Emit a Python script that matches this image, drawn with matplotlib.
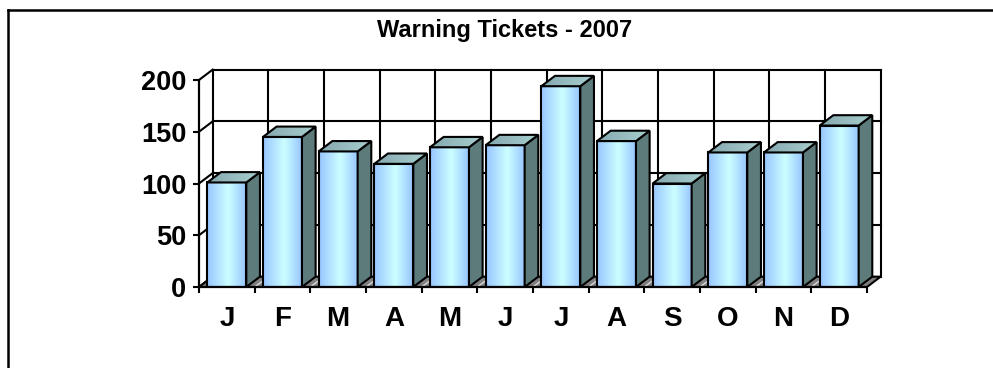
import matplotlib
matplotlib.use('Agg')
import matplotlib.pyplot as plt
import numpy as np
from matplotlib.patches import Polygon, Rectangle
from matplotlib.colors import LinearSegmentedColormap
from matplotlib.lines import Line2D

plt.rcParams['font.family'] = ['Liberation Sans', 'DejaVu Sans']
plt.rcParams['font.weight'] = 'bold'

# Data
months = ['J', 'F', 'M', 'A', 'M', 'J', 'J', 'A', 'S', 'O', 'N', 'D']
tickets = [101, 145, 131, 119, 135, 137, 194, 141, 100, 130, 130, 156]
yticks = [0, 50, 100, 150, 200]
title = 'Warning Tickets - 2007'

W, H = 993, 368
fig = plt.figure(figsize=(W / 100, H / 100), dpi=100)

n = len(months)
xmax, ymax = n + 0.4, 215
px_x, px_y = 668 / n, 207 / 200        # pixels per data unit
ax = fig.add_axes([199 / W, (H - 287) / H, xmax * px_x / W, ymax * px_y / H])

dx, dy = 0.245, 10      # depth offset (data units)
bw = 0.70               # bar width
lw = 1.5
black = 'black'

# back wall grid
for v in yticks[1:]:
    ax.plot([dx, n + dx], [v + dy, v + dy], color=black, lw=lw, zorder=1)
for k in range(n + 1):
    ax.plot([k + dx, k + dx], [dy, yticks[-1] + dy], color=black, lw=lw, zorder=1)
# side wall lines
for v in yticks:
    ax.plot([0, dx], [v, v + dy], color=black, lw=lw, zorder=1)

# floor
ax.add_patch(Polygon([(0, 0), (n, 0), (n + dx, dy), (dx, dy)], closed=True,
                     fc='#808080', ec=black, lw=lw, zorder=1.5))
for k in range(1, n):
    ax.plot([k, k + dx], [0, dy], color='#d8d8d8', lw=1.0, zorder=1.6)

front_cmap = LinearSegmentedColormap.from_list(
    'front', [(0, '#98C6FF'), (0.55, '#CCFFFF'), (1, '#98C6FF')])
top_cmap = LinearSegmentedColormap.from_list(
    'top', [(0, '#85A8AF'), (1, '#A9CFCF')])
grad = np.linspace(0, 1, 64).reshape(1, -1)

for i, v in enumerate(tickets):
    x0 = i + (1 - bw) / 2
    x1 = x0 + bw
    # front face
    ax.imshow(grad, cmap=front_cmap, extent=[x0, x1, 0, v], aspect='auto',
              interpolation='bilinear', zorder=3)
    ax.add_patch(Rectangle((x0, 0), bw, v, fill=False, ec=black, lw=lw, zorder=4))
    # side face
    ax.add_patch(Polygon([(x1, 0), (x1 + dx, dy), (x1 + dx, v + dy), (x1, v)],
                         closed=True, fc='#5E7B7B', ec=black, lw=lw, zorder=4))
    # top face
    top = Polygon([(x0, v), (x1, v), (x1 + dx, v + dy), (x0 + dx, v + dy)],
                  closed=True, fc='none', ec=black, lw=lw, zorder=5)
    ax.add_patch(top)
    im = ax.imshow(grad, cmap=top_cmap, extent=[x0, x1 + dx, v, v + dy],
                   aspect='auto', interpolation='bilinear', zorder=4.5)
    im.set_clip_path(top)

ax.set_xlim(0, xmax)
ax.set_ylim(0, ymax)

# axes / ticks
for s in ['top', 'right']:
    ax.spines[s].set_visible(False)
ax.spines['left'].set_bounds(0, yticks[-1])
ax.spines['bottom'].set_bounds(0, n)
for s in ['left', 'bottom']:
    ax.spines[s].set_linewidth(1.6)
    ax.spines[s].set_zorder(6)
ax.patch.set_alpha(0)

ax.set_yticks(yticks)
ax.set_yticklabels([str(t) for t in yticks], fontsize=19.5, fontweight='bold')
ax.tick_params(axis='y', length=4, width=1.5, pad=5)
ax.set_xticks(np.arange(n) + 0.5)
ax.set_xticklabels(months, fontsize=20, fontweight='bold')
ax.set_xticks(np.arange(n + 1), minor=True)
ax.tick_params(axis='x', which='major', length=0, pad=14)
ax.tick_params(axis='x', which='minor', length=4, width=1.5)

fig.text(505 / W, 1 - 31 / H, title, ha='center', va='center',
         fontsize=17, fontweight='bold')

# outer frame (top and left visible)
fig.add_artist(Line2D([8 / W, 1], [1 - 10 / H, 1 - 10 / H],
                      transform=fig.transFigure, color=black, lw=1.8))
fig.add_artist(Line2D([8 / W, 8 / W], [0, 1 - 10 / H],
                      transform=fig.transFigure, color=black, lw=1.8))

fig.savefig('out.png', dpi=100)
